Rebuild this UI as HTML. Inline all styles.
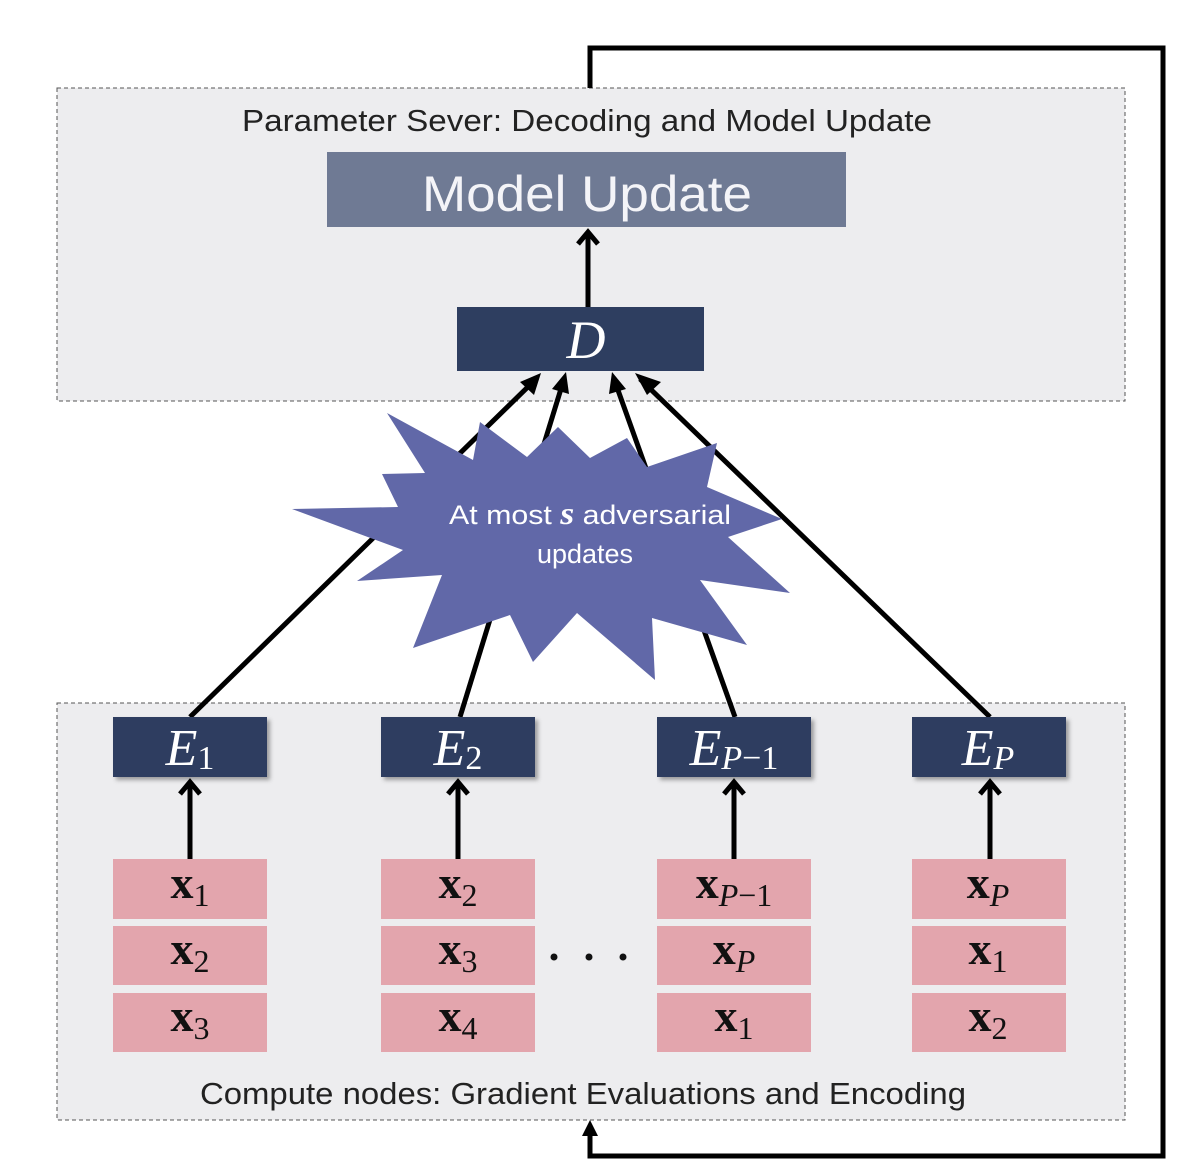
<!DOCTYPE html>
<html><head><meta charset="utf-8"><style>html,body{margin:0;padding:0;background:#fff}svg{display:block}</style></head>
<body>
<svg width="1202" height="1175" viewBox="0 0 1202 1175" xmlns="http://www.w3.org/2000/svg">
<defs>
<filter id="sh" x="-10%" y="-10%" width="130%" height="140%"><feDropShadow dx="3" dy="3" stdDeviation="2" flood-color="#000" flood-opacity="0.35"/></filter>
</defs>
<rect x="57" y="88" width="1068" height="313" fill="#ededef" stroke="#555" stroke-width="1" stroke-dasharray="4,3"/>
<rect x="57" y="703" width="1068" height="417" fill="#ededef" stroke="#555" stroke-width="1" stroke-dasharray="4,3"/>
<text x="587" y="131" font-family="Liberation Sans, sans-serif" font-size="31" text-anchor="middle" textLength="690" lengthAdjust="spacingAndGlyphs" fill="#222">Parameter Sever: Decoding and Model Update</text>
<text x="583" y="1104" font-family="Liberation Sans, sans-serif" font-size="31" text-anchor="middle" textLength="766" lengthAdjust="spacingAndGlyphs" fill="#222">Compute nodes: Gradient Evaluations and Encoding</text>
<rect x="327" y="152" width="519" height="75" fill="#6f7a94"/>
<text x="587" y="211" font-family="Liberation Sans, sans-serif" font-size="50" text-anchor="middle" textLength="330" lengthAdjust="spacingAndGlyphs" fill="#f4f4f8">Model Update</text>
<rect x="457" y="307" width="247" height="64" fill="#2e3e60"/>
<text x="586" y="358" font-family="Liberation Serif, serif" font-style="italic" font-size="54" text-anchor="middle" fill="#fff">D</text>
<g stroke="#000" stroke-width="5" fill="none">
<line x1="588" y1="307" x2="588" y2="234"/>
<path d="M578,244 L588,232 L598,244"/>
<line x1="190" y1="717" x2="536" y2="379"/>
<line x1="460" y1="717" x2="564" y2="379"/>
<line x1="735" y1="717" x2="614" y2="379"/>
<line x1="990" y1="717" x2="640" y2="379"/>
<polyline points="590,88 590,48 1163,48 1163,1156 590,1156 590,1128"/>
</g>
<g fill="#000">
<polygon points="541,373 534,395 520,382"/>
<polygon points="566,372 569,394 552,389"/>
<polygon points="612,372 626,389 609,394"/>
<polygon points="635,373 661,382 647,395"/>
<polygon points="590,1120 582,1136 598,1136"/>
</g>
<polygon fill="#6168a8" points="387,413 473,460 480,422 527,457 558,427 590,458 627,438 647,467 717,443 707,487 782,519 728,537 790,593 700,580 747,645 652,618 655,680 577,613 533,662 510,615 413,648 442,575 357,581 403,550 292,509 398,507 382,474 425,473"/>
<text x="590" y="524" font-family="Liberation Sans, sans-serif" font-size="27" text-anchor="middle" fill="#fff" textLength="282" lengthAdjust="spacingAndGlyphs">At most <tspan font-family="Liberation Serif, serif" font-style="italic" font-weight="bold" font-size="32">s</tspan> adversarial</text>
<text x="585" y="563" font-family="Liberation Sans, sans-serif" font-size="27" text-anchor="middle" fill="#fff">updates</text>
<g filter="url(#sh)" fill="#2e3e60">
<rect x="113" y="717" width="154" height="60"/>
<rect x="381" y="717" width="154" height="60"/>
<rect x="657" y="717" width="154" height="60"/>
<rect x="912" y="717" width="154" height="60"/>
</g>
<g font-family="Liberation Serif, serif" fill="#fff" font-size="52" text-anchor="middle">
<text x="190" y="765"><tspan font-style="italic">E</tspan><tspan font-size="34" dy="4">1</tspan></text>
<text x="458" y="765"><tspan font-style="italic">E</tspan><tspan font-size="34" dy="4">2</tspan></text>
<text x="734" y="765"><tspan font-style="italic">E</tspan><tspan font-size="34" font-style="italic" dy="4">P</tspan><tspan font-size="34">−1</tspan></text>
<text x="988" y="765"><tspan font-style="italic">E</tspan><tspan font-size="34" font-style="italic" dy="4">P</tspan></text>
</g>
<g stroke="#000" stroke-width="5" fill="none">
<line x1="190" y1="859" x2="190" y2="782"/><path d="M180,794 L190,782 L200,794"/>
<line x1="458" y1="859" x2="458" y2="782"/><path d="M448,794 L458,782 L468,794"/>
<line x1="734" y1="859" x2="734" y2="782"/><path d="M724,794 L734,782 L744,794"/>
<line x1="990" y1="859" x2="990" y2="782"/><path d="M980,794 L990,782 L1000,794"/>
</g>
<g fill="#e3a5ad">
<rect x="113" y="859" width="154" height="60"/><rect x="113" y="926" width="154" height="59"/><rect x="113" y="993" width="154" height="59"/>
<rect x="381" y="859" width="154" height="60"/><rect x="381" y="926" width="154" height="59"/><rect x="381" y="993" width="154" height="59"/>
<rect x="657" y="859" width="154" height="60"/><rect x="657" y="926" width="154" height="59"/><rect x="657" y="993" width="154" height="59"/>
<rect x="912" y="859" width="154" height="60"/><rect x="912" y="926" width="154" height="59"/><rect x="912" y="993" width="154" height="59"/>
</g>
<g font-family="Liberation Serif, serif" fill="#111" font-size="46" text-anchor="middle">
<text x="190" y="898"><tspan font-weight="bold">x</tspan><tspan font-size="32" dy="8">1</tspan></text>
<text x="190" y="964"><tspan font-weight="bold">x</tspan><tspan font-size="32" dy="8">2</tspan></text>
<text x="190" y="1031"><tspan font-weight="bold">x</tspan><tspan font-size="32" dy="8">3</tspan></text>
<text x="458" y="898"><tspan font-weight="bold">x</tspan><tspan font-size="32" dy="8">2</tspan></text>
<text x="458" y="964"><tspan font-weight="bold">x</tspan><tspan font-size="32" dy="8">3</tspan></text>
<text x="458" y="1031"><tspan font-weight="bold">x</tspan><tspan font-size="32" dy="8">4</tspan></text>
<text x="734" y="898"><tspan font-weight="bold">x</tspan><tspan font-size="32" dy="8" font-style="italic">P</tspan><tspan font-size="32">−1</tspan></text>
<text x="734" y="964"><tspan font-weight="bold">x</tspan><tspan font-size="32" dy="8" font-style="italic">P</tspan></text>
<text x="734" y="1031"><tspan font-weight="bold">x</tspan><tspan font-size="32" dy="8">1</tspan></text>
<text x="988" y="898"><tspan font-weight="bold">x</tspan><tspan font-size="32" dy="8" font-style="italic">P</tspan></text>
<text x="988" y="964"><tspan font-weight="bold">x</tspan><tspan font-size="32" dy="8">1</tspan></text>
<text x="988" y="1031"><tspan font-weight="bold">x</tspan><tspan font-size="32" dy="8">2</tspan></text>
</g>
<g fill="#111"><circle cx="554" cy="957" r="3.5"/><circle cx="589" cy="957" r="3.5"/><circle cx="623" cy="957" r="3.5"/></g>
</svg>
</body></html>
